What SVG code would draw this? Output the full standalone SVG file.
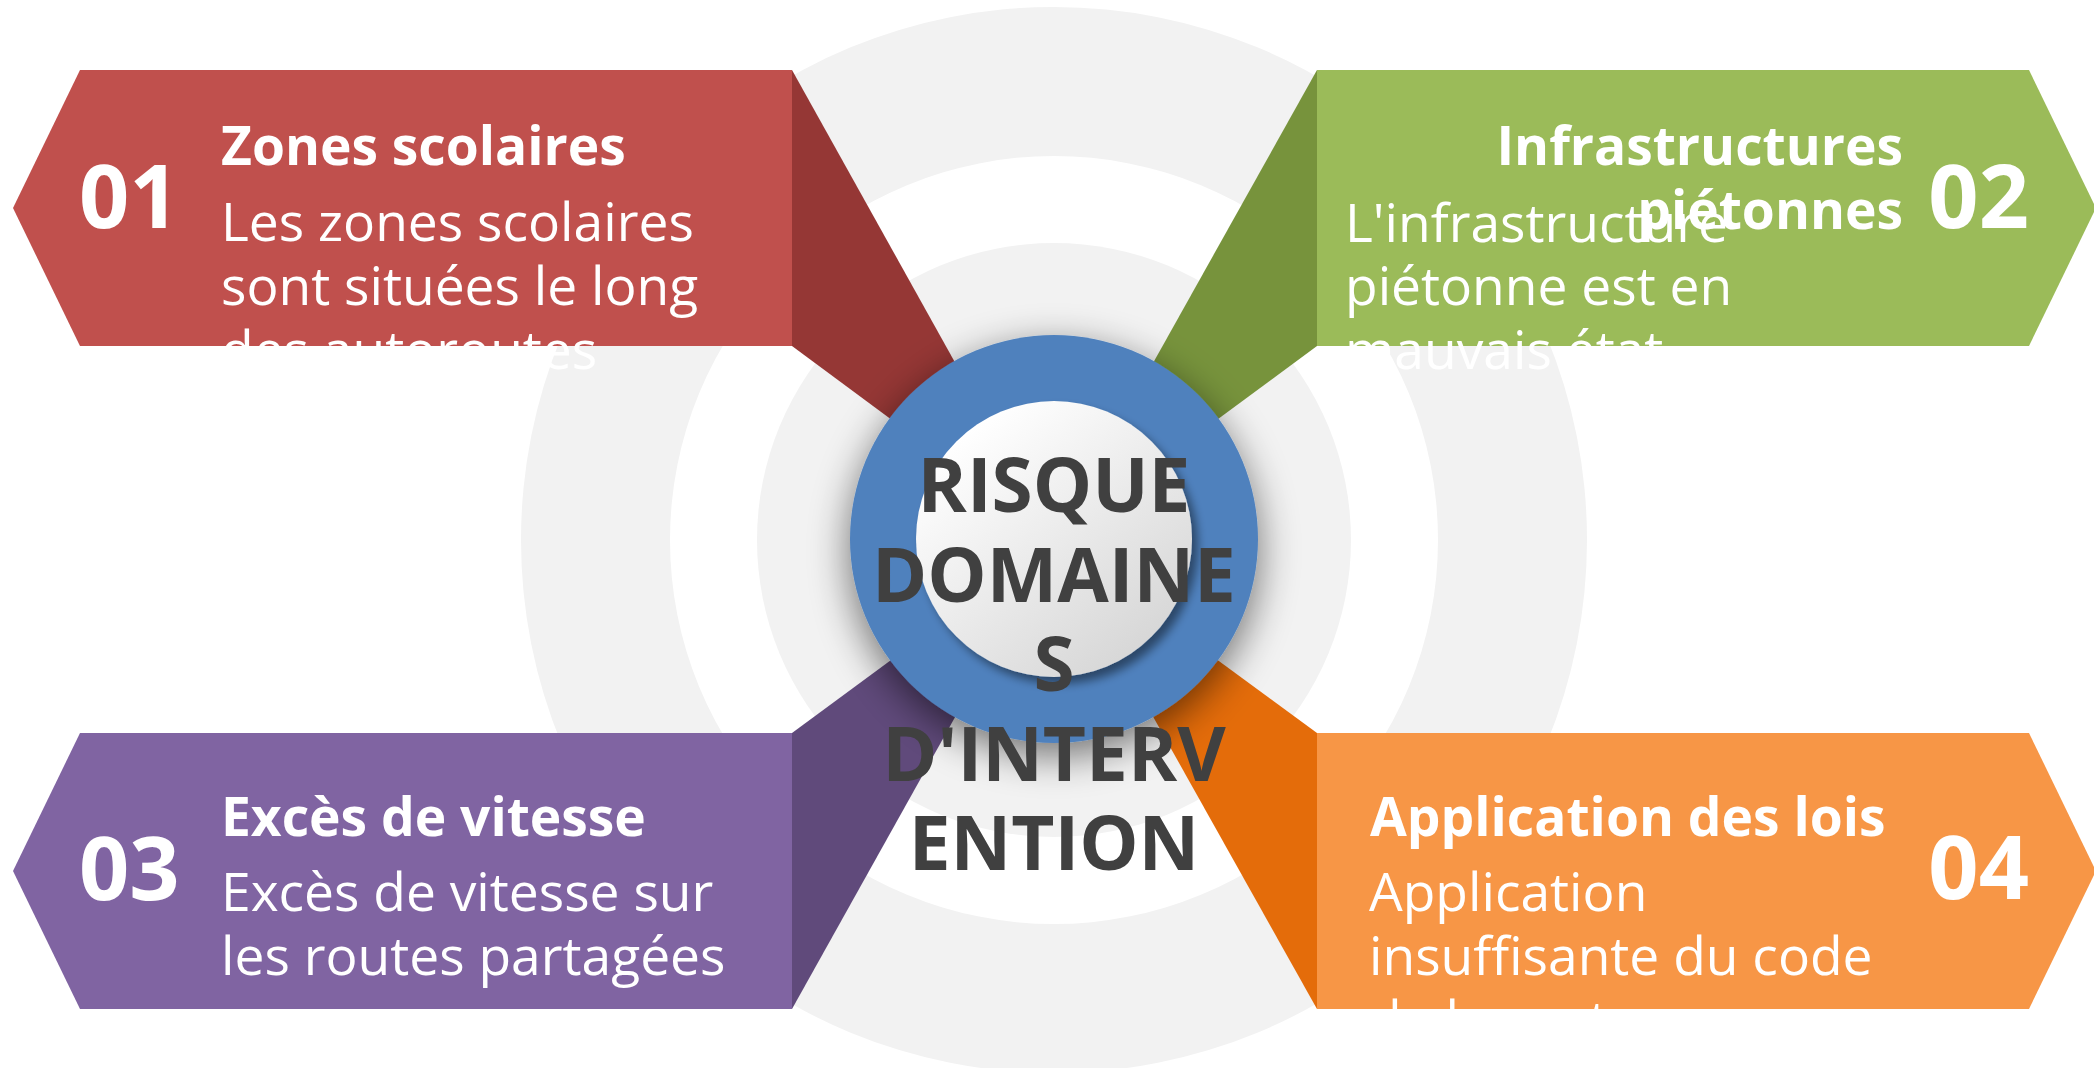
<svg xmlns="http://www.w3.org/2000/svg" width="2094" height="1068" viewBox="0 0 2094 1068">
<defs>
<style>
text{font-family:"Open Sans","Liberation Sans",sans-serif;fill:#fff}
.ring{fill:#F2F2F2}
.num{font-size:88px;font-weight:700}
.ttl{font-size:53.33px;font-weight:700}
.body{font-size:53.33px;font-weight:400}
.ctr{font-size:74.67px;font-weight:700;fill:#404040;text-anchor:middle}
.end{text-anchor:end}
</style>
<filter id="bigShadow" x="-50%" y="-50%" width="200%" height="200%">
<feGaussianBlur in="SourceAlpha" stdDeviation="20"/>
<feOffset dx="0" dy="12" result="b"/>
<feComponentTransfer><feFuncA type="linear" slope="0.55"/></feComponentTransfer>
<feMerge><feMergeNode/><feMergeNode in="SourceGraphic"/></feMerge>
</filter>
<filter id="innerShadow" x="-30%" y="-30%" width="160%" height="160%">
<feGaussianBlur in="SourceAlpha" stdDeviation="5"/>
<feOffset dx="6" dy="7" result="b"/>
<feComponentTransfer><feFuncA type="linear" slope="0.45"/></feComponentTransfer>
<feMerge><feMergeNode/><feMergeNode in="SourceGraphic"/></feMerge>
</filter>
<linearGradient id="pearl" x1="0.2" y1="0.1" x2="0.85" y2="0.9">
<stop offset="0" stop-color="#FFFFFF"/>
<stop offset="1" stop-color="#D6D6D6"/>
</linearGradient>
</defs>
<rect width="2094" height="1068" fill="#FFFFFF"/>
<g id="rings">
<path class="ring" fill-rule="evenodd" d="M521,540a533,533 0 1,0 1066,0a533,533 0 1,0 -1066,0ZM670,540a384,384 0 1,0 768,0a384,384 0 1,0 -768,0Z"/>
<circle class="ring" cx="1054" cy="540" r="297"/>
</g>
<g id="connectors">
<polygon points="792,70 1054,540 792,346" fill="#953735"/>
<polygon points="1317,70 1054,540 1317,346" fill="#77933C"/>
<polygon points="792,733 1054,540 792,1009" fill="#604A7B"/>
<polygon points="1317,733 1054,540 1317,1009" fill="#E46C0A"/>
</g>
<g id="node-01">
<polygon points="80,70 792,70 792,346 80,346 13,208" fill="#C0504D"/>
<text class="num" x="79" y="228">01</text>
<text class="ttl" x="221" y="165">Zones scolaires</text>
<text class="body" x="221" y="241">Les zones scolaires</text>
<text class="body" x="221" y="305">sont situées le long</text>
<text class="body" x="221" y="369">des autoroutes</text>
</g>
<g id="node-02">
<polygon points="1317,70 2029,70 2096,208 2029,346 1317,346" fill="#9BBB59"/>
<text class="body" x="1345" y="242">L'infrastructure</text>
<text class="body" x="1345" y="305">piétonne est en</text>
<text class="body" x="1345" y="369">mauvais état</text>
<text class="ttl end" x="1903" y="165">Infrastructures</text>
<text class="ttl end" x="1903" y="229">piétonnes</text>
<text class="num end" x="2029" y="228">02</text>
</g>
<g id="node-03">
<polygon points="80,733 792,733 792,1009 80,1009 13,871" fill="#8064A2"/>
<text class="num" x="79" y="900">03</text>
<text class="ttl" x="221" y="836">Excès de vitesse</text>
<text class="body" x="221" y="911">Excès de vitesse sur</text>
<text class="body" x="221" y="975">les routes partagées</text>
</g>
<g id="node-04">
<polygon points="1317,733 2029,733 2096,871 2029,1009 1317,1009" fill="#F79646"/>
<text class="ttl" x="1370" y="836">Application des lois</text>
<text class="body" x="1369" y="911">Application</text>
<text class="body" x="1369" y="975">insuffisante du code</text>
<text class="body" x="1369" y="1039">de la route</text>
<text class="num end" x="2029" y="899">04</text>
</g>
<g id="center">
<circle cx="1054" cy="539" r="204" fill="#4F81BD" filter="url(#bigShadow)"/>
<circle cx="1054" cy="539" r="138" fill="url(#pearl)" filter="url(#innerShadow)"/>
<text class="ctr" x="1054" y="512">RISQUE</text>
<text class="ctr" x="1054" y="601.5">DOMAINE</text>
<text class="ctr" x="1054" y="691">S</text>
<text class="ctr" x="1054" y="780.5">D'INTERV</text>
<text class="ctr" x="1054" y="870">ENTION</text>
</g>
</svg>
